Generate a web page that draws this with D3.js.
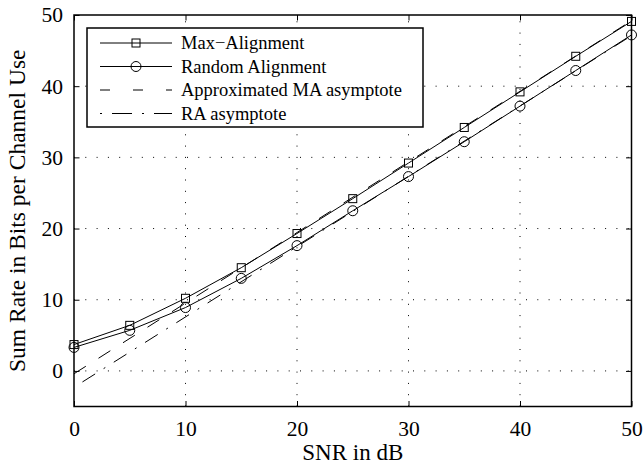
<!DOCTYPE html>
<html>
<head>
<meta charset="utf-8">
<script src="https://cdn.jsdelivr.net/npm/d3@7"></script>
<style>
  body { margin: 0; background: #fff; }
  svg { display: block; font-family: "Liberation Serif", "Times New Roman", serif; }
</style>
</head>
<body>
<svg width="644" height="466"></svg>
<script>
// Chart data
var snr = [0, 5, 10, 15, 20, 25, 30, 35, 40, 45, 50];
var maxAlignment = [3.7, 6.4, 10.2, 14.5, 19.3, 24.2, 29.2, 34.2, 39.2, 44.2, 49.1];
var randomAlignment = [3.3, 5.7, 8.9, 13.0, 17.6, 22.5, 27.3, 32.2, 37.2, 42.2, 47.2];
var asymSnr = [0, 50];
var maAsymptote = [-0.4, 49.2];
var raAsymptote = [-2.3, 47.1];
var xTicks = [0, 10, 20, 30, 40, 50];
var yTicks = [0, 10, 20, 30, 40, 50];
var legendLabels = ['Max\u2212Alignment', 'Random Alignment', 'Approximated MA asymptote', 'RA asymptote'];

var svg = d3.select('svg');

// Plot area
var plot = {l: 74, r: 631.5, t: 15, b: 406.5};

var x = d3.scaleLinear().domain([0, 50]).range([plot.l, plot.r]);
var y = d3.scaleLinear().domain([-5, 50]).range([plot.b, plot.t]);

// Dotted grid
var grid = svg.append('g').attr('class', 'grid')
    .attr('stroke', '#000').attr('stroke-width', 1).attr('stroke-dasharray', '1,10.3');
grid.selectAll('.gx').data(xTicks.slice(1, -1)).enter().append('line')
    .attr('x1', function(d){ return x(d); }).attr('x2', function(d){ return x(d); })
    .attr('y1', plot.b).attr('y2', plot.t);
grid.selectAll('.gy').data(yTicks.slice(0, -1)).enter().append('line')
    .attr('y1', function(d){ return y(d); }).attr('y2', function(d){ return y(d); })
    .attr('x1', plot.l).attr('x2', plot.r);

// Series
var series = [
    {name: legendLabels[0], xs: snr, ys: maxAlignment, dash: null, marker: 'square'},
    {name: legendLabels[1], xs: snr, ys: randomAlignment, dash: null, marker: 'circle'},
    {name: legendLabels[2], xs: asymSnr, ys: maAsymptote, dash: '14,15', legendDash: '10,23', marker: null},
    {name: legendLabels[3], xs: asymSnr, ys: raAsymptote, dash: '15,10,2,10', offset: 27, legendDash: '2,10,20,10', marker: null}
];

var line = d3.line()
    .x(function(d){ return x(d[0]); })
    .y(function(d){ return y(d[1]); });

function drawMarker(g, type, cx, cy) {
    if(type === 'square') {
        g.append('rect').attr('x', cx - 4).attr('y', cy - 4)
            .attr('width', 8).attr('height', 8)
            .attr('fill', 'none').attr('stroke', '#000').attr('stroke-width', 1);
    } else if(type === 'circle') {
        g.append('circle').attr('cx', cx).attr('cy', cy).attr('r', 5)
            .attr('fill', 'none').attr('stroke', '#000').attr('stroke-width', 1);
    }
}

var lines = svg.append('g').attr('class', 'lines');
series.forEach(function(s){
    var pts = s.xs.map(function(v, i){ return [v, s.ys[i]]; });
    lines.append('path')
        .attr('d', line(pts))
        .attr('fill', 'none')
        .attr('stroke', '#000')
        .attr('stroke-width', 1)
        .attr('stroke-dasharray', s.dash)
        .attr('stroke-dashoffset', s.offset || 0);
    if(s.marker) {
        pts.forEach(function(p){ drawMarker(lines, s.marker, x(p[0]), y(p[1])); });
    }
});

// Axes with inward ticks on all four sides
var tick = 5.5;
var fontTick = 21.5;
svg.append('g')
    .attr('transform', 'translate(0,' + plot.b + ')')
    .call(d3.axisBottom(x).tickValues(xTicks).tickSizeInner(-tick).tickSizeOuter(0).tickPadding(14.5))
    .call(styleAxis);
svg.append('g')
    .attr('transform', 'translate(0,' + plot.t + ')')
    .call(d3.axisTop(x).tickValues(xTicks).tickSizeInner(-tick).tickSizeOuter(0).tickFormat(''))
    .call(styleAxis);
svg.append('g')
    .attr('transform', 'translate(' + plot.l + ',0)')
    .call(d3.axisLeft(y).tickValues(yTicks).tickSizeInner(-tick).tickSizeOuter(0).tickPadding(11))
    .call(styleAxis);
svg.append('g')
    .attr('transform', 'translate(' + plot.r + ',0)')
    .call(d3.axisRight(y).tickValues(yTicks).tickSizeInner(-tick).tickSizeOuter(0).tickFormat(''))
    .call(styleAxis);

function styleAxis(g) {
    g.select('.domain').remove();
    g.selectAll('.tick line').attr('stroke', '#000').attr('stroke-width', 1);
    g.selectAll('.tick text')
        .attr('font-family', '"Liberation Serif", "Times New Roman", serif')
        .attr('font-size', fontTick)
        .attr('fill', '#000');
}

// Axes box
svg.append('rect')
    .attr('x', plot.l).attr('y', plot.t)
    .attr('width', plot.r - plot.l).attr('height', plot.b - plot.t)
    .attr('fill', 'none').attr('stroke', '#000').attr('stroke-width', 1.5);

// Axis titles
svg.append('text')
    .attr('x', (plot.l + plot.r) / 2).attr('y', 460)
    .attr('text-anchor', 'middle').attr('font-size', 23)
    .text('SNR in dB');
svg.append('text')
    .attr('transform', 'translate(25,' + ((plot.t + plot.b) / 2) + ') rotate(-90)')
    .attr('text-anchor', 'middle').attr('font-size', 23.5)
    .text('Sum Rate in Bits per Channel Use');

// Legend
var legend = svg.append('g').attr('class', 'legend');
legend.append('rect')
    .attr('x', 87).attr('y', 28).attr('width', 336).attr('height', 99)
    .attr('fill', '#fff').attr('stroke', '#000').attr('stroke-width', 1.5);

var rowY = d3.scalePoint().domain(legendLabels).range([43, 113.5]);
series.forEach(function(s){
    var ly = rowY(s.name);
    legend.append('line')
        .attr('x1', 100).attr('x2', 172).attr('y1', ly).attr('y2', ly)
        .attr('stroke', '#000').attr('stroke-width', 1)
        .attr('stroke-dasharray', s.legendDash || null);
    if(s.marker) drawMarker(legend, s.marker, 136, ly);
    legend.append('text')
        .attr('x', 181).attr('y', ly).attr('dy', '0.33em')
        .attr('font-size', 18.5)
        .text(s.name);
});
</script>
</body>
</html>
